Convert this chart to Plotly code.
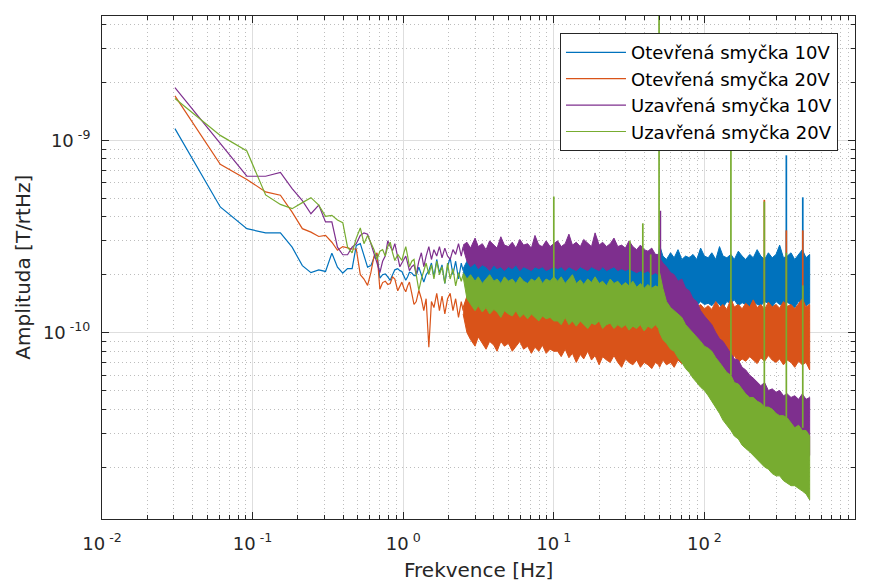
import plotly.graph_objects as go

UNIT = 1e-10  # all amplitude values below are in units of 1e-10 T/rtHz

# ---- low-frequency part (individual spectral bins), Hz ----
F_LOW = [0.0305, 0.061, 0.0916, 0.122, 0.153, 0.183, 0.214, 0.244, 0.275, 0.305,
         0.336, 0.366, 0.397, 0.427, 0.458, 0.488, 0.519, 0.549, 0.58, 0.61,
         0.64, 0.67, 0.70, 0.73, 0.76, 0.79, 0.82, 0.85, 0.88, 0.92,
         0.95, 0.98, 1.01, 1.04, 1.07, 1.10, 1.14, 1.18, 1.22, 1.27,
         1.32, 1.37, 1.42, 1.48, 1.54, 1.60, 1.67, 1.74, 1.81, 1.89,
         1.97, 2.05, 2.14, 2.23, 2.33, 2.43, 2.5]

BLUE_LOW = [11.5, 4.5, 3.47, 3.3, 3.3, 2.78, 2.23, 2.05, 2.12, 2.08,
            2.59, 2.19, 2.04, 2.15, 2.15, 2.84, 2.9, 2.5, 2.19, 2.23,
            2.45, 2.57, 1.92, 2.0, 2.02, 1.95, 1.87, 2.0, 2.12, 2.15,
            2.1, 2.08, 1.95, 1.87, 1.95, 2.06, 2.04, 1.98, 1.98, 2.19,
            2.0, 1.83, 2.0, 2.1, 2.3, 1.95, 2.4, 2.05, 2.25, 1.8,
            2.2, 2.45, 2.0, 2.35, 1.9, 2.3, 2.1]
ORANGE_LOW = [17.0, 7.5, 6.26, 5.39, 5.18, 4.23, 3.47, 3.33, 3.16, 3.2,
              2.95, 2.68, 2.8, 2.75, 2.72, 2.72, 2.0, 1.9, 1.76, 2.05,
              2.5, 2.6, 1.68, 1.82, 1.85, 1.78, 1.8, 1.95, 1.9, 1.65,
              1.75, 1.83, 1.7, 1.63, 1.75, 1.83, 1.6, 1.4, 1.45, 1.66,
              1.5, 1.3, 1.5, 0.84, 1.45, 1.35, 1.6, 1.3, 1.55, 1.25,
              1.5, 1.6, 1.3, 1.5, 1.2, 1.45, 1.3]
PURPLE_LOW = [18.8, 9.7, 6.5, 6.5, 6.8, 5.6, 4.85, 4.15, 4.6, 3.76,
              3.76, 2.78, 2.54, 2.54, 2.78, 2.9, 3.2, 3.3, 3.25, 2.9,
              2.6, 2.3, 2.05, 2.35, 2.5, 3.0, 2.8, 2.67, 2.9, 2.5,
              2.2, 2.3, 2.4, 2.5, 2.3, 2.1, 2.2, 2.25, 2.0, 2.35,
              2.6, 2.2, 2.5, 2.8, 2.4, 2.7, 2.5, 2.8, 2.45, 2.75,
              2.5, 2.4, 2.7, 2.55, 2.9, 2.5, 2.8]
GREEN_LOW = [16.5, 10.6, 8.8, 5.2, 4.64, 4.41, 4.74, 5.03, 4.6, 4.02,
             4.07, 3.85, 3.73, 2.78, 2.6, 3.1, 3.5, 2.9, 3.2, 2.9,
             2.7, 2.4, 2.65, 2.7, 2.5, 2.8, 2.95, 2.6, 2.37, 2.55,
             2.45, 2.37, 2.6, 2.8, 2.5, 2.2, 2.35, 2.4, 2.0, 1.66,
             1.9, 2.1, 2.3, 2.0, 2.25, 1.9, 2.35, 2.0, 2.2, 1.8,
             2.3, 1.9, 2.15, 1.75, 2.05, 1.85, 2.0]

# ---- dense part: upper / lower envelope of the noise band, Hz ----
BAND_F = [2.5, 2.65, 2.8, 3.0, 3.15, 3.35, 3.55, 3.75, 4.0, 4.2, 4.45, 4.7, 5.0,
          5.3, 5.6, 5.95, 6.3, 6.7, 7.1, 7.5, 7.95, 8.4, 8.9, 9.45, 10,
          10.6, 11.2, 11.9, 12.6, 13.3, 14.1, 15.0, 15.8, 16.8, 17.8, 18.8, 20,
          21.1, 22.4, 23.7, 25.1, 26.6, 28.2, 29.9, 31.6, 33.5, 35.5, 37.6, 39.8,
          42.2, 44.7, 47.3, 49.6,
          50.4, 53, 56, 59.6, 63, 66.8, 70.8, 75, 79.4, 84, 89, 94.4, 100,
          106, 112, 119, 126, 133, 141, 150, 158, 168, 178, 188, 200, 211, 224,
          237, 251, 266, 282, 299, 316, 335, 355, 376, 398, 422, 447, 473, 500]

BLUE_TOP = [2.15, 2.35, 2.5, 2.3, 2.6, 2.4, 2.45, 2.7, 2.35, 2.5, 2.45, 2.6, 2.4,
            2.55, 2.75, 2.45, 2.5, 2.4, 2.65, 2.5, 2.45, 2.6, 2.4, 2.55, 2.5,
            2.55, 2.45, 2.6, 2.5, 2.4, 2.65, 2.5, 2.45, 2.55, 2.7, 2.45, 2.5,
            2.6, 2.45, 2.55, 2.5, 2.65, 2.45, 2.5, 2.6, 2.45, 2.55, 2.5, 2.45,
            2.6, 2.5, 2.55, 2.5,
            2.85, 2.5, 2.4, 2.6, 2.45, 2.7, 2.4, 2.5, 2.45, 2.55, 2.4, 2.75, 2.5,
            2.45, 2.6, 2.4, 2.8, 2.5, 2.45, 2.55, 2.4, 2.65, 2.5, 2.4, 2.55, 2.45,
            2.7, 2.5, 2.4, 2.6, 2.45, 2.55, 2.85, 2.45, 2.5, 2.6, 2.4, 2.55, 2.7,
            2.45, 2.55]
BLUE_BOT = [2.05, 1.75, 1.6, 1.7, 1.55, 1.6, 1.5, 1.55, 1.65, 1.5, 1.45, 1.55, 1.5,
            1.4, 1.5, 1.45, 1.55, 1.4, 1.5, 1.45, 1.4, 1.5, 1.45, 1.4, 1.45,
            1.45, 1.4, 1.5, 1.4, 1.45, 1.4, 1.5, 1.45, 1.4, 1.45, 1.5, 1.4,
            1.45, 1.4, 1.45, 1.5, 1.4, 1.45, 1.4, 1.45, 1.4, 1.45, 1.5, 1.4,
            1.45, 1.4, 1.45, 1.45,
            1.4, 1.45, 1.38, 1.48, 1.42, 1.35, 1.45, 1.4, 1.5, 1.42, 1.38, 1.45, 1.4,
            1.42, 1.38, 1.45, 1.4, 1.35, 1.45, 1.42, 1.48, 1.38, 1.43, 1.4, 1.32,
            1.45, 1.4, 1.38, 1.45, 1.42, 1.36, 1.45, 1.4, 1.38, 1.44, 1.4, 1.35,
            1.45, 1.42, 1.38, 1.42]
ORANGE_TOP = [1.35, 1.55, 1.45, 1.7, 1.5, 1.45, 1.6, 1.4, 1.5, 1.65, 1.45, 1.4, 1.55,
              1.45, 1.5, 1.4, 1.6, 1.45, 1.4, 1.5, 1.42, 1.55, 1.4, 1.45, 1.38,
              1.4, 1.32, 1.38, 1.3, 1.45, 1.33, 1.28, 1.36, 1.3, 1.25, 1.38, 1.3,
              1.27, 1.35, 1.25, 1.3, 1.22, 1.32, 1.25, 1.2, 1.3, 1.22, 1.25, 1.18,
              1.28, 1.2, 1.22, 1.2,
              1.3, 1.38, 1.32, 1.45, 1.35, 1.4, 1.3, 1.42, 1.35, 1.5, 1.36, 1.4, 1.33,
              1.38, 1.32, 1.45, 1.35, 1.4, 1.32, 1.5, 1.36, 1.4, 1.33, 1.42, 1.36,
              1.48, 1.35, 1.4, 1.32, 1.44, 1.36, 1.4, 1.34, 1.45, 1.37, 1.4, 1.33,
              1.42, 1.5, 1.36, 1.4]
ORANGE_BOT = [1.25, 1.0, 0.92, 0.85, 0.95, 0.88, 0.82, 0.9, 0.86, 0.8, 0.9, 0.85, 0.88,
              0.8, 0.85, 0.9, 0.82, 0.85, 0.78, 0.84, 0.8, 0.86, 0.78, 0.82, 0.8,
              0.8, 0.75, 0.82, 0.74, 0.78, 0.7, 0.77, 0.73, 0.8, 0.72, 0.76, 0.68,
              0.75, 0.72, 0.7, 0.76, 0.7, 0.66, 0.73, 0.7, 0.68, 0.72, 0.66, 0.7,
              0.68, 0.65, 0.7, 0.68,
              0.66, 0.72, 0.68, 0.7, 0.66, 0.72, 0.69, 0.74, 0.7, 0.68, 0.73, 0.7, 0.72,
              0.72, 0.7, 0.75, 0.71, 0.68, 0.74, 0.72, 0.76, 0.7, 0.73, 0.71, 0.75,
              0.72, 0.69, 0.74, 0.71, 0.76, 0.72, 0.7, 0.73, 0.68, 0.72, 0.7, 0.66,
              0.71, 0.68, 0.7, 0.64]
PURPLE_TOP = [2.85, 2.95, 2.75, 3.1, 2.8, 2.9, 2.7, 3.0, 2.85, 2.75, 3.15, 2.85, 2.8,
              2.95, 2.75, 3.05, 2.85, 2.9, 2.75, 3.2, 2.85, 2.8, 3.0, 2.8, 2.9,
              3.0, 2.8, 2.9, 3.25, 2.85, 2.95, 2.8, 3.05, 2.9, 2.8, 3.3, 2.85,
              2.95, 2.8, 2.9, 3.1, 2.8, 2.85, 2.75, 3.0, 2.8, 2.7, 2.85, 2.7,
              2.65, 2.75, 2.55, 2.55,
              2.45, 2.3, 2.2, 2.05, 2.0, 1.85, 1.9, 1.7, 1.65, 1.5, 1.45, 1.3, 1.22,
              1.15, 1.1, 1.0, 0.93, 0.9, 0.84, 0.78, 0.73, 0.72, 0.66, 0.64, 0.6,
              0.58, 0.55, 0.53, 0.55, 0.5, 0.51, 0.49, 0.5, 0.47, 0.48, 0.46, 0.47,
              0.45, 0.48, 0.45, 0.46]
PURPLE_BOT = [2.75, 2.35, 2.2, 2.3, 2.15, 2.25, 2.2, 2.1, 2.25, 2.15, 2.2, 2.1, 2.2,
              2.15, 2.25, 2.1, 2.2, 2.15, 2.1, 2.2, 2.15, 2.2, 2.1, 2.15, 2.2,
              2.15, 2.2, 2.1, 2.2, 2.15, 2.1, 2.2, 2.15, 2.1, 2.2, 2.15, 2.1,
              2.2, 2.1, 2.15, 2.2, 2.1, 2.15, 2.1, 2.15, 2.1, 2.05, 2.1, 2.05,
              2.1, 2.0, 2.05, 2.0,
              1.6, 1.4, 1.25, 1.15, 1.1, 1.0, 0.95, 0.88, 0.82, 0.77, 0.72, 0.68, 0.64,
              0.61, 0.58, 0.54, 0.5, 0.48, 0.45, 0.42, 0.4, 0.38, 0.37, 0.35, 0.34,
              0.33, 0.32, 0.31, 0.3, 0.29, 0.28, 0.28, 0.27, 0.26, 0.26, 0.25, 0.25,
              0.24, 0.24, 0.23, 0.23]
GREEN_TOP = [2.05, 1.9, 2.0, 1.85, 1.95, 1.8, 1.9, 2.0, 1.85, 1.9, 1.8, 1.95, 1.85,
             1.9, 1.8, 1.95, 1.85, 1.8, 1.9, 1.85, 1.95, 1.8, 1.9, 1.85, 1.95,
             1.85, 1.95, 1.8, 1.9, 2.0, 1.8, 1.88, 1.78, 1.9, 1.82, 1.95, 1.8,
             1.85, 1.75, 1.9, 1.8, 1.85, 1.75, 1.82, 1.75, 1.85, 1.72, 1.8, 1.7,
             1.78, 1.7, 1.75, 1.72,
             2.05, 1.7, 1.45, 1.35, 1.3, 1.25, 1.2, 1.1, 1.05, 1.0, 0.95, 0.9, 0.85,
             0.83, 0.8, 0.74, 0.7, 0.66, 0.62, 0.6, 0.55, 0.54, 0.51, 0.48, 0.46,
             0.46, 0.44, 0.43, 0.41, 0.41, 0.4, 0.38, 0.37, 0.37, 0.36, 0.34, 0.32,
             0.33, 0.31, 0.31, 0.29]
GREEN_BOT = [1.95, 1.5, 1.4, 1.3, 1.38, 1.28, 1.35, 1.25, 1.32, 1.28, 1.2, 1.3, 1.25,
             1.22, 1.3, 1.2, 1.25, 1.18, 1.25, 1.2, 1.15, 1.22, 1.18, 1.2, 1.15,
             1.15, 1.1, 1.2, 1.1, 1.15, 1.08, 1.15, 1.1, 1.05, 1.12, 1.1, 1.15,
             1.05, 1.1, 1.12, 1.05, 1.1, 1.06, 1.1, 1.03, 1.08, 1.05, 1.1, 1.02,
             1.08, 1.05, 1.1, 1.05,
             1.0, 0.92, 0.88, 0.82, 0.8, 0.74, 0.7, 0.65, 0.62, 0.58, 0.55, 0.52, 0.5,
             0.47, 0.44, 0.41, 0.38, 0.35, 0.33, 0.31, 0.29, 0.28, 0.26, 0.25, 0.24,
             0.23, 0.22, 0.21, 0.2, 0.195, 0.185, 0.18, 0.18, 0.17, 0.165, 0.16, 0.16,
             0.155, 0.15, 0.145, 0.135]

# ---- narrow spectral lines (frequency, line foot, line peak) ----
BLUE_SPIKE_F = [350, 450]
BLUE_SPIKE_BASE = [2.5, 2.5]
BLUE_SPIKE_TOP = [8.35, 5.05]
ORANGE_SPIKE_F = [250, 350, 450]
ORANGE_SPIKE_BASE = [1.35, 1.35, 1.35]
ORANGE_SPIKE_TOP = [4.9, 3.4, 3.4]
PURPLE_SPIKE_F = [51]
PURPLE_SPIKE_BASE = [2.4]
PURPLE_SPIKE_TOP = [4.3]
GREEN_SPIKE_F = [10, 32, 39, 44, 50, 150, 250, 350, 450]
GREEN_SPIKE_BASE = [1.8, 1.7, 1.7, 1.7, 1.7, 0.6, 0.41, 0.36, 0.32]
GREEN_SPIKE_TOP = [5.1, 3.0, 3.7, 2.55, 100, 11.5, 4.8, 2.6, 1.76]

NAMES = ["Otevřená smyčka 10V", "Otevřená smyčka 20V",
         "Uzavřená smyčka 10V", "Uzavřená smyčka 20V"]
COLORS = ["#0072BD", "#D95319", "#7E2F8E", "#77AC30"]

X_TICKS = [0.01, 0.1, 1, 10, 100, 1000]
X_TICKTEXT = ["10<sup> -2</sup>", "10<sup> -1</sup>", "10<sup> 0</sup>",
              "10<sup> 1</sup>", "10<sup> 2</sup>", "10<sup> 3</sup>"]
Y_TICKS = [1e-10, 1e-9]
Y_TICKTEXT = ["10<sup> -10</sup>", "10<sup> -9</sup>"]

series = [
    (BLUE_LOW, BLUE_TOP, BLUE_BOT, BLUE_SPIKE_F, BLUE_SPIKE_BASE, BLUE_SPIKE_TOP),
    (ORANGE_LOW, ORANGE_TOP, ORANGE_BOT, ORANGE_SPIKE_F, ORANGE_SPIKE_BASE, ORANGE_SPIKE_TOP),
    (PURPLE_LOW, PURPLE_TOP, PURPLE_BOT, PURPLE_SPIKE_F, PURPLE_SPIKE_BASE, PURPLE_SPIKE_TOP),
    (GREEN_LOW, GREEN_TOP, GREEN_BOT, GREEN_SPIKE_F, GREEN_SPIKE_BASE, GREEN_SPIKE_TOP),
]

fig = go.Figure()
for (low, top, bot, sf, sb, st), name, color in zip(series, NAMES, COLORS):
    fig.add_trace(go.Scatter(x=F_LOW, y=[v * UNIT for v in low], mode="lines",
                             line=dict(color=color, width=1.2), name=name))
    fig.add_trace(go.Scatter(x=BAND_F + BAND_F[::-1],
                             y=[v * UNIT for v in top] + [v * UNIT for v in bot[::-1]],
                             mode="lines", fill="toself", fillcolor=color,
                             line=dict(color=color, width=1), showlegend=False,
                             hoverinfo="skip"))
    xs, ys = [], []
    for f, b, t in zip(sf, sb, st):
        xs += [f, f, None]
        ys += [b * UNIT, t * UNIT, None]
    fig.add_trace(go.Scatter(x=xs, y=ys, mode="lines",
                             line=dict(color=color, width=1.7), showlegend=False,
                             hoverinfo="skip"))

AX = "#262626"
x_minor = [m * 10.0 ** e for e in range(-2, 3) for m in range(2, 10)]
y_minor = [m * 10.0 ** e for e in (-11, -10, -9) for m in range(2, 10)]

fig.update_xaxes(type="log", range=[-2, 3], tickmode="array", tickvals=X_TICKS,
                 ticktext=X_TICKTEXT, ticks="inside", ticklen=7, tickwidth=1,
                 tickcolor=AX, showline=True, linecolor=AX, linewidth=1,
                 mirror="allticks", showgrid=True, gridcolor="#dedede", gridwidth=1,
                 zeroline=False, ticklabelstandoff=8,
                 tickfont=dict(family="DejaVu Sans", size=18, color=AX),
                 minor=dict(tickmode="array", tickvals=x_minor, ticks="inside",
                            ticklen=4, tickcolor=AX, showgrid=True,
                            gridcolor="#bdbdbd", griddash="1px,3px", gridwidth=1))
fig.update_yaxes(type="log", range=[-10.969, -8.354], tickmode="array",
                 tickvals=Y_TICKS, ticktext=Y_TICKTEXT, ticks="inside", ticklen=7,
                 tickwidth=1, tickcolor=AX, showline=True, linecolor=AX,
                 linewidth=1, mirror="allticks", showgrid=True, gridcolor="#dedede",
                 gridwidth=1, zeroline=False, ticklabelstandoff=7,
                 tickfont=dict(family="DejaVu Sans", size=18, color=AX),
                 minor=dict(tickmode="array", tickvals=y_minor, ticks="inside",
                            ticklen=4, tickcolor=AX, showgrid=True,
                            gridcolor="#bdbdbd", griddash="1px,3px", gridwidth=1))

fig.update_layout(
    width=872, height=583,
    margin=dict(l=102, r=17, t=16, b=64),
    paper_bgcolor="white", plot_bgcolor="white",
    font=dict(family="DejaVu Sans", size=18, color=AX),
    showlegend=True,
    legend=dict(x=0.9774, y=0.966, xanchor="right", yanchor="top",
                bgcolor="white", bordercolor=AX, borderwidth=1,
                font=dict(family="DejaVu Sans", size=18, color="black"),
                itemwidth=60, tracegroupgap=0),
    annotations=[
        dict(text="Frekvence [Hz]", xref="paper", yref="paper", x=0.5,
             y=-0.1014, xanchor="center", yanchor="middle", showarrow=False,
             font=dict(family="DejaVu Sans", size=20, color=AX)),
        dict(text="Amplituda [T/rtHz]", xref="paper", yref="paper", x=-0.106,
             y=0.5, xanchor="center", yanchor="middle", showarrow=False,
             textangle=-90, font=dict(family="DejaVu Sans", size=20, color=AX)),
    ],
)

fig.write_html("out.html", config={"displayModeBar": False})
